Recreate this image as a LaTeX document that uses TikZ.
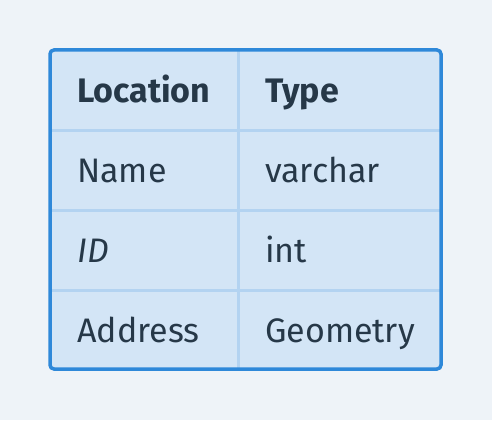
\documentclass[tikz,border=0pt]{standalone}
\usepackage{fontspec}
\setmainfont{Fira Sans}
\definecolor{bgc}{HTML}{EEF3F8}
\definecolor{cellc}{HTML}{D3E5F6}
\definecolor{borderc}{HTML}{2E88D9}
\definecolor{gridc}{HTML}{B3D3F1}
\definecolor{textc}{HTML}{263848}
\begin{document}
\begin{tikzpicture}[x=1pt,y=-1pt,
  cell/.style={anchor=base west,inner sep=0pt,text=textc,font=\fontsize{34}{40}\selectfont},
  head/.style={cell,font=\fontsize{34}{40}\selectfont\bfseries},
  grid/.style={draw=gridc,line width=3pt},
  frame/.style={draw=borderc,line width=3.5pt,rounded corners=4pt}]
\fill[bgc] (0,0) rectangle (492,420);
\useasboundingbox (0,0) rectangle (492,420);
\fill[cellc,rounded corners=4pt] (50,50) rectangle (441,369);
\draw[grid] (238,50) -- (238,369);
\draw[grid] (50,130) -- (441,130);
\draw[grid] (50,210) -- (441,210);
\draw[grid] (50,290) -- (441,290);
\draw[frame] (50,50) rectangle (441,369);
\node[head] (h1) at (77,102) {Location};
\node[head] (h2) at (265,102) {Type};
\node[cell] (a1) at (77,182) {Name};
\node[cell] (a2) at (265,182) {varchar};
\node[cell] (b1) at (77,262) {\itshape ID};
\node[cell] (b2) at (265,262) {int};
\node[cell] (c1) at (77,342) {Address};
\node[cell] (c2) at (265,342) {Geometry};
\end{tikzpicture}
\end{document}
